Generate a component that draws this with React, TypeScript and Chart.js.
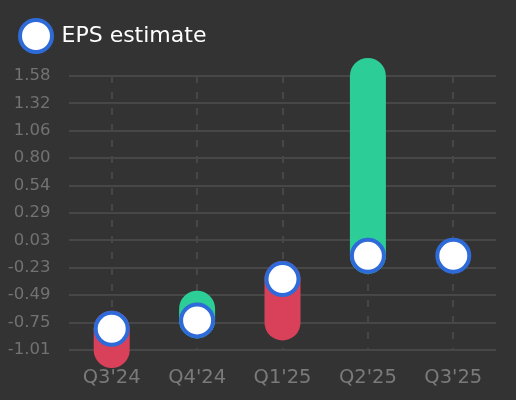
import { useEffect, useRef } from 'react';
import { Chart } from 'chart.js/auto';

const quarters = ["Q3'24", "Q4'24", "Q1'25", "Q2'25", "Q3'25"];
const epsActual = [-1.01, -0.62, -0.75, 1.58, null];
const epsEstimate = [-0.81, -0.73, -0.34, -0.12, -0.12];
const yTickLabels = ['-1.01', '-0.75', '-0.49', '-0.23', '0.03', '0.29', '0.54', '0.80', '1.06', '1.32', '1.58'];

const BEAT = '#2ccd96';
const MISS = '#d9405a';
const BLUE = '#2e6bd9';
const GRID = '#474747';

// makes room between the legend and the plot
const legendGap = {
    id: 'legendGap',
    beforeInit(chart: any) {
        const fit = chart.legend.fit;
        chart.legend.fit = function () {
            fit.bind(chart.legend)();
            this.height += 19;
        };
    }
};

// legend marker: same look as the estimate points
function makeMarker() {
    const c = document.createElement('canvas');
    c.width = 38;
    c.height = 38;
    const g = c.getContext('2d');
    if (g) {
        g.beginPath();
        g.arc(19, 19, 16, 0, Math.PI * 2);
        g.fillStyle = '#ffffff';
        g.fill();
        g.lineWidth = 4;
        g.strokeStyle = BLUE;
        g.stroke();
    }
    return c;
}

export default function App() {
    const canvasRef = useRef<HTMLCanvasElement>(null);
    const chartRef = useRef<Chart | null>(null);

    useEffect(() => {
        document.body.style.margin = '0';
        if (!canvasRef.current) return;

        if (chartRef.current) {
            chartRef.current.destroy();
        }

        Chart.defaults.font.family = "'DejaVu Sans', sans-serif";

        // actual -> estimate pairs, broken by a gap after each quarter
        const ranges = quarters.flatMap((q, i) => [
            { x: q, y: epsActual[i] },
            { x: q, y: epsEstimate[i] },
            { x: q, y: null }
        ]);

        chartRef.current = new Chart(canvasRef.current, {
            type: 'line',
            data: {
                labels: quarters,
                datasets: [
                    {
                        label: 'EPS estimate',
                        data: epsEstimate,
                        showLine: false,
                        pointRadius: 16,
                        pointHoverRadius: 16,
                        pointBorderWidth: 4,
                        pointBackgroundColor: '#ffffff',
                        pointBorderColor: BLUE,
                        backgroundColor: '#ffffff',
                        borderColor: BLUE,
                        clip: false
                    },
                    {
                        label: 'EPS actual',
                        data: ranges as any,
                        borderWidth: 36,
                        borderCapStyle: 'round',
                        borderColor: BEAT,
                        pointRadius: 0,
                        pointHoverRadius: 0,
                        spanGaps: false,
                        tension: 0,
                        clip: false,
                        segment: {
                            borderColor: (ctx: any) => ctx.p0.parsed.y > ctx.p1.parsed.y ? BEAT : MISS
                        }
                    } as any
                ]
            },
            options: {
                responsive: false,
                animation: false,
                layout: { padding: { top: 11.5, left: 8, right: 19, bottom: 8 } },
                plugins: {
                    legend: {
                        position: 'top',
                        align: 'start',
                        labels: {
                            usePointStyle: true,
                            pointStyle: makeMarker(),
                            pointStyleWidth: 29,
                            color: '#ffffff',
                            padding: 13.5,
                            font: { size: 22 },
                            filter: (item) => item.datasetIndex === 0
                        }
                    },
                    tooltip: { enabled: false }
                },
                scales: {
                    x: {
                        offset: true,
                        grid: { color: GRID, lineWidth: 2, drawTicks: false },
                        border: { display: false, dash: [7, 9] },
                        ticks: { color: '#7a7a7a', font: { size: 19.5 }, padding: 16 },
                        afterFit: (axis) => { axis.height = 42; }
                    },
                    y: {
                        min: -1.01,
                        max: 1.58,
                        grid: { color: GRID, lineWidth: 2, drawTicks: false },
                        border: { display: false },
                        ticks: {
                            count: 11,
                            color: '#727272',
                            font: { size: 16.5 },
                            padding: 18.5,
                            callback: (_v, i) => yTickLabels[i]
                        },
                        afterFit: (axis) => { axis.width = 61; }
                    }
                }
            },
            plugins: [legendGap]
        });

        return () => {
            if (chartRef.current) {
                chartRef.current.destroy();
                chartRef.current = null;
            }
        };
    }, []);

    return (
        <div style={{ width: 516, height: 400, background: '#333333' }}>
            <canvas ref={canvasRef} width={516} height={400}></canvas>
        </div>
    );
}
